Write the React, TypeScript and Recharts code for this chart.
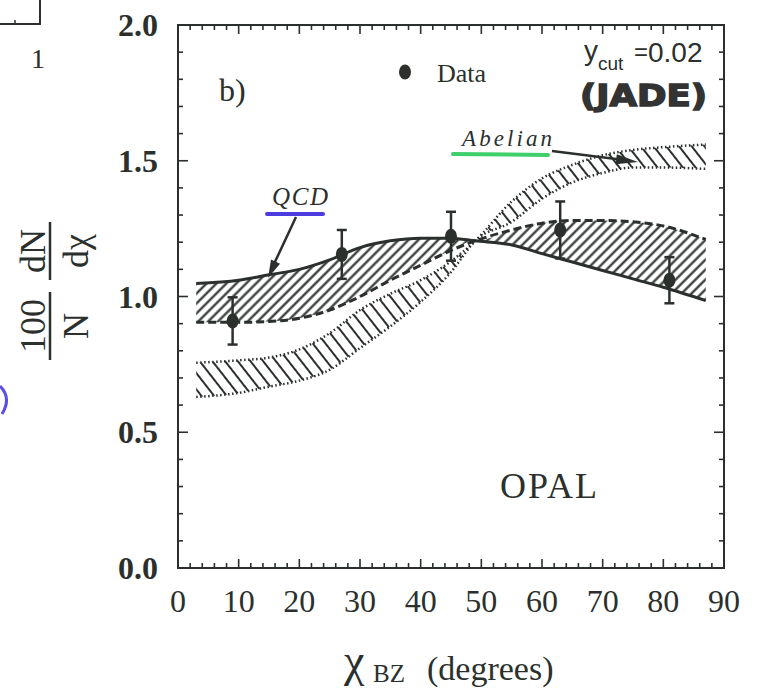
import React from "react";
import { ComposedChart, Area, Line, Scatter, ErrorBar, XAxis, YAxis, ReferenceArea } from "recharts";

// ---- data ----
const chi = [3, 10, 15, 20, 25, 30, 35, 40, 45, 49, 55, 60, 65, 70, 75, 80, 87];
const qcdSolid = [1.048, 1.06, 1.08, 1.1, 1.135, 1.18, 1.205, 1.215, 1.215, 1.205, 1.19, 1.158, 1.127, 1.096, 1.065, 1.034, 0.985];
const qcdDashed = [0.905, 0.905, 0.908, 0.92, 0.95, 1.0, 1.06, 1.115, 1.17, 1.205, 1.245, 1.27, 1.28, 1.28, 1.275, 1.26, 1.21];
const abelUpper = [0.756, 0.765, 0.775, 0.805, 0.865, 0.95, 1.01, 1.06, 1.13, 1.205, 1.35, 1.435, 1.485, 1.52, 1.54, 1.55, 1.56];
const abelLower = [0.63, 0.645, 0.668, 0.69, 0.73, 0.81, 0.89, 0.98, 1.09, 1.205, 1.275, 1.36, 1.42, 1.455, 1.475, 1.475, 1.47];

const dataChi = [9, 27, 45, 63, 81];
const dataVal = [0.91, 1.155, 1.222, 1.245, 1.06];
const dataErr = [0.087, 0.09, 0.09, 0.105, 0.085];

const xTicks = [0, 2, 4, 6, 8, 10, 12, 14, 16, 18, 20, 22, 24, 26, 28, 30, 32, 34, 36, 38, 40, 42, 44, 46, 48, 50, 52, 54, 56, 58, 60, 62, 64, 66, 68, 70, 72, 74, 76, 78, 80, 82, 84, 86, 88, 90];
const yTicks = [0, 0.1, 0.2, 0.3, 0.4, 0.5, 0.6, 0.7, 0.8, 0.9, 1.0, 1.1, 1.2, 1.3, 1.4, 1.5, 1.6, 1.7, 1.8, 1.9, 2.0];

const rows = chi.map((x, i) => ({
  x,
  qcd: [Math.min(qcdSolid[i], qcdDashed[i]), Math.max(qcdSolid[i], qcdDashed[i])],
  abel: [abelLower[i], abelUpper[i]],
  qcdSolid: qcdSolid[i],
  qcdDashed: qcdDashed[i],
  abelUpper: abelUpper[i],
  abelLower: abelLower[i],
}));
const points = dataChi.map((x, i) => ({ x, y: dataVal[i], err: dataErr[i] }));

const INK = "#2b302d";
const SERIF = "'Liberation Serif', 'DejaVu Serif', serif";
const SANS = "'Liberation Sans', Arial, sans-serif";

const isMajorX = (v: number) => v % 10 === 0;
const isMajorY = (v: number) => Math.round(v * 10) % 5 === 0;

const BottomTick = (p: any) => {
  const v = p.payload.value;
  const m = isMajorX(v);
  return (
    <g>
      <line x1={p.x} y1={p.y} x2={p.x} y2={p.y - (m ? 9 : 5)} stroke={INK} strokeWidth={1.6} />
      {m && (
        <text x={p.x} y={p.y + 44} textAnchor="middle" fontFamily={SERIF} fontSize={32} fill={INK}>
          {v}
        </text>
      )}
    </g>
  );
};
const TopTick = (p: any) => {
  const v = p.payload.value;
  const m = isMajorX(v);
  return <line x1={p.x} y1={p.y} x2={p.x} y2={p.y + (m ? 9 : 5)} stroke={INK} strokeWidth={1.6} />;
};
const LeftTick = (p: any) => {
  const v = p.payload.value;
  const m = isMajorY(v);
  return (
    <g>
      <line x1={p.x} y1={p.y} x2={p.x + (m ? 10 : 5)} y2={p.y} stroke={INK} strokeWidth={1.6} />
      {m && (
        <text x={p.x - 20} y={p.y + 11} textAnchor="end" fontFamily={SERIF} fontWeight="bold" fontSize={32} fill={INK}>
          {v.toFixed(1)}
        </text>
      )}
    </g>
  );
};
const RightTick = (p: any) => {
  const v = p.payload.value;
  const m = isMajorY(v);
  return <line x1={p.x} y1={p.y} x2={p.x - (m ? 10 : 5)} y2={p.y} stroke={INK} strokeWidth={1.6} />;
};

const Dot = (p: any) => <ellipse cx={p.cx} cy={p.cy} rx={6} ry={7.5} fill={INK} />;

export default function App() {
  return (
    <div style={{ position: "absolute", left: 0, top: 0, width: 763, height: 688, background: "#fff" }}>
      <ComposedChart width={763} height={688} data={rows} margin={{ top: 24, right: 38, bottom: 60, left: 118 }}>
        <defs>
          <pattern id="hq" patternUnits="userSpaceOnUse" width="7" height="7" patternTransform="rotate(45)">
            <line x1="3.5" y1="0" x2="3.5" y2="7" stroke={INK} strokeWidth="2.2" />
          </pattern>
          <pattern id="ha" patternUnits="userSpaceOnUse" width="10" height="10" patternTransform="rotate(-38)">
            <line x1="5" y1="0" x2="5" y2="10" stroke={INK} strokeWidth="2" />
          </pattern>
        </defs>
        <XAxis dataKey="x" type="number" domain={[0, 90]} ticks={xTicks} interval={0} tickLine={false} tickSize={0} tickMargin={0} height={60} axisLine={{ stroke: INK, strokeWidth: 2 }} tick={BottomTick} />
        <XAxis xAxisId="top" orientation="top" dataKey="x" type="number" domain={[0, 90]} ticks={xTicks} interval={0} tickLine={false} tickSize={0} tickMargin={0} height={1} axisLine={false} tick={TopTick} />
        <YAxis type="number" domain={[0, 2]} ticks={yTicks} interval={0} tickLine={false} tickSize={0} tickMargin={0} width={60} axisLine={{ stroke: INK, strokeWidth: 2 }} tick={LeftTick} />
        <YAxis yAxisId="right" orientation="right" type="number" domain={[0, 2]} ticks={yTicks} interval={0} tickLine={false} tickSize={0} tickMargin={0} width={1} axisLine={false} tick={RightTick} />

        <ReferenceArea x1={0} x2={90} y1={0} y2={2} fill="none" stroke={INK} strokeWidth={2} ifOverflow="visible" />

        <Area type="monotone" dataKey="abel" stroke="none" fill="url(#ha)" fillOpacity={1} isAnimationActive={false} />
        <Area type="monotone" dataKey="qcd" stroke="none" fill="url(#hq)" fillOpacity={1} isAnimationActive={false} />
        <Line type="monotone" dataKey="abelUpper" stroke={INK} strokeWidth={2.5} strokeDasharray="1.5 2.5" dot={false} isAnimationActive={false} />
        <Line type="monotone" dataKey="abelLower" stroke={INK} strokeWidth={2.5} strokeDasharray="1.5 2.5" dot={false} isAnimationActive={false} />
        <Line type="monotone" dataKey="qcdDashed" stroke={INK} strokeWidth={3} strokeDasharray="8 4" dot={false} isAnimationActive={false} />
        <Line type="monotone" dataKey="qcdSolid" stroke={INK} strokeWidth={3} dot={false} isAnimationActive={false} />
        {/* invisible copy bound to the mirror axes so their inward ticks are drawn */}
        <Line xAxisId="top" yAxisId="right" type="monotone" dataKey="qcdSolid" stroke="none" strokeOpacity={0} dot={false} activeDot={false} legendType="none" isAnimationActive={false} />
        <Scatter data={points} dataKey="y" shape={Dot} isAnimationActive={false}>
          <ErrorBar dataKey="err" direction="y" width={5} stroke={INK} strokeWidth={2.5} />
        </Scatter>
      </ComposedChart>

      <svg width={763} height={688} style={{ position: "absolute", left: 0, top: 0, pointerEvents: "none" }}>
        {/* stray marks from the neighbouring panel */}
        <path d="M0,24 L40,24 L40,0" fill="none" stroke={INK} strokeWidth={2} />
        <line x1={15} y1={24} x2={15} y2={20} stroke={INK} strokeWidth={1.5} />
        <text x={38} y={68} textAnchor="middle" fontFamily={SERIF} fontSize={28} fill={INK}>1</text>
        <path d="M0,386 Q12,398 2,414" fill="none" stroke="#5a4ee6" strokeWidth={3} />

        {/* y-axis title */}
        <g transform="translate(50,290) rotate(-90)" fontFamily={SERIF} fontSize={36} fill={INK}>
          <text x={39} y={-5} textAnchor="middle">dN</text>
          <line x1={10} y1={0} x2={68} y2={0} stroke={INK} strokeWidth={2.5} />
          <text x={39} y={38} textAnchor="middle">dχ</text>
          <text x={-36} y={-5} textAnchor="middle">100</text>
          <line x1={-70} y1={0} x2={-2} y2={0} stroke={INK} strokeWidth={2.5} />
          <text x={-36} y={38} textAnchor="middle">N</text>
        </g>

        {/* x-axis title */}
        <text fontFamily={SERIF} fill={INK}>
          <tspan x={344} y={676} fontSize={46}>χ</tspan>
          <tspan x={373} y={682} fontSize={25}>BZ</tspan>
          <tspan x={427} y={680} fontSize={34}>(degrees)</tspan>
        </text>

        {/* panel label & legend */}
        <text x={219} y={101} fontFamily={SERIF} fontSize={32} fill={INK}>b)</text>
        <ellipse cx={405} cy={72} rx={6} ry={7.5} fill={INK} />
        <text x={437} y={82} fontFamily={SERIF} fontSize={26} fill={INK}>Data</text>

        {/* y_cut */}
        <text x={584} y={60} fontFamily={SANS} fontSize={28} fill={INK}>y</text>
        <text x={598} y={70} fontFamily={SANS} fontSize={19} fill={INK}>cut</text>
        <text x={634} y={60} fontFamily={SANS} fontSize={24} fill={INK}>=</text>
        <text x={648} y={62} fontFamily={SANS} fontSize={28} fill={INK}>0.02</text>
        <text x={580} y={106} fontFamily="'DejaVu Sans', sans-serif" fontWeight="bold" fontSize={30} fill="#333" stroke="#333" strokeWidth={1.5} textLength={127} lengthAdjust="spacingAndGlyphs">(JADE)</text>

        {/* Abelian annotation */}
        <text x={462} y={146} fontFamily={SERIF} fontStyle="italic" fontSize={23} fill={INK} textLength={90} lengthAdjust="spacing">Abelian</text>
        <line x1={453} y1={154} x2={548} y2={155} stroke="#3fcf6b" strokeWidth={4} strokeLinecap="round" />
        <line x1={552} y1={151} x2={620} y2={159.5} stroke={INK} strokeWidth={2.5} />
        <polygon points="638,162 615.6,164.2 616.8,154.2" fill={INK} />

        {/* QCD annotation */}
        <text x={272} y={205} fontFamily={SERIF} fontStyle="italic" fontSize={25} fill={INK} textLength={56} lengthAdjust="spacing">QCD</text>
        <line x1={267} y1={214} x2={323} y2={214} stroke="#4b3ce0" strokeWidth={4} strokeLinecap="round" />
        <line x1={296} y1={217} x2={274} y2={264} stroke={INK} strokeWidth={2.5} />
        <polygon points="268,278 280,263.7 271,259.5" fill={INK} />

        {/* OPAL */}
        <text x={500} y={498} fontFamily={SERIF} fontSize={36} fill={INK} textLength={97} lengthAdjust="spacing">OPAL</text>
      </svg>
    </div>
  );
}
